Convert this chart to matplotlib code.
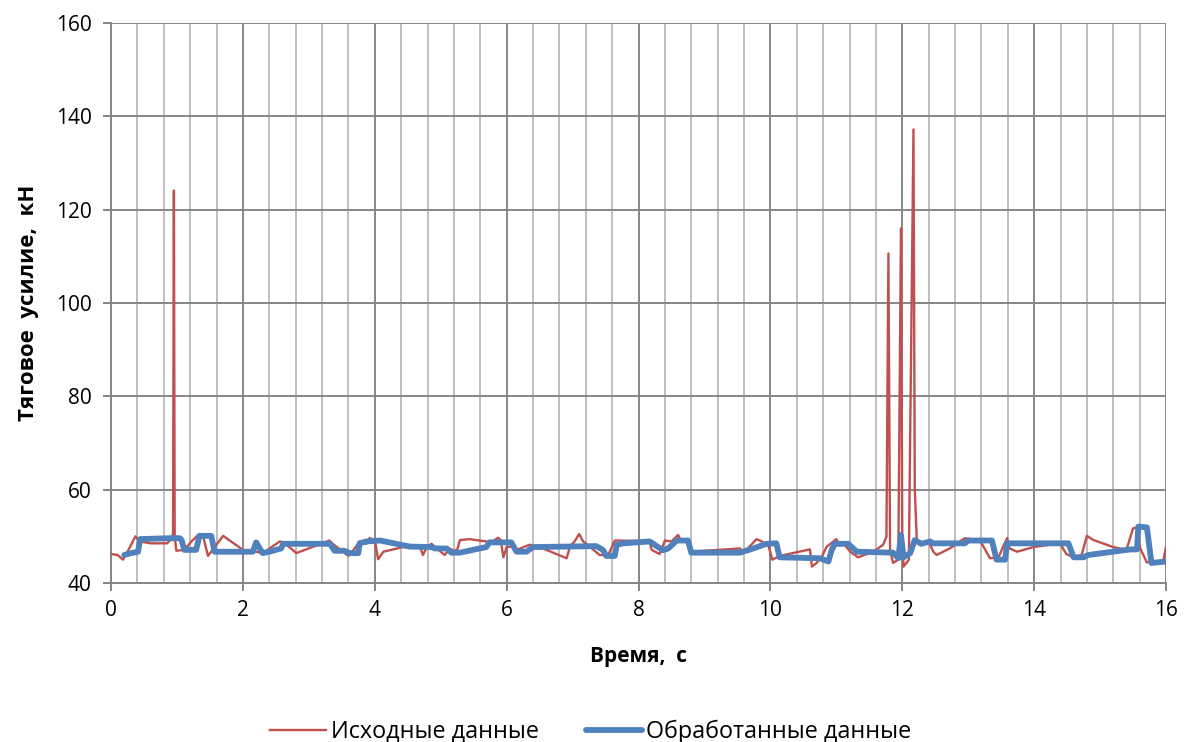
import matplotlib
matplotlib.use("Agg")
import matplotlib.pyplot as plt
from matplotlib.ticker import MultipleLocator

plt.rcParams['font.family'] = ['Open Sans', 'DejaVu Sans']

# Raw data (Исходные данные)
raw_t = [0.00, 0.10, 0.18, 0.25, 0.37, 0.43, 0.60, 0.85, 0.90, 0.94, 0.953, 0.965, 0.99,
         1.11, 1.22, 1.32, 1.40, 1.47, 1.70, 2.00, 2.20, 2.30, 2.56, 2.62, 2.81, 3.31, 3.36,
         3.60, 3.68, 3.77, 3.87, 3.92, 4.00, 4.05, 4.13, 4.43, 4.68, 4.73, 4.78, 4.86, 4.94,
         5.06, 5.14, 5.19, 5.25, 5.29, 5.44, 5.69, 5.77, 5.87, 5.91, 5.95, 6.00, 6.07, 6.15,
         6.35, 6.55, 6.91, 6.96, 7.03, 7.10, 7.16, 7.26, 7.41, 7.54, 7.64, 8.02, 8.17, 8.20,
         8.32, 8.40, 8.50, 8.60, 8.65, 8.73, 8.78, 9.54, 9.56, 9.61, 9.79, 9.87, 9.97, 10.03,
         10.14, 10.60, 10.63, 10.70, 10.78, 10.85, 11.00, 11.05, 11.10, 11.21, 11.33, 11.56,
         11.71, 11.76, 11.79, 11.815, 11.86, 11.94, 11.98, 12.00, 12.02, 12.10, 12.17, 12.19,
         12.22, 12.32, 12.40, 12.47, 12.52, 12.72, 12.95, 13.18, 13.33, 13.46, 13.53, 13.59,
         13.63, 13.74, 13.99, 14.39, 14.49, 14.60, 14.72, 14.80, 14.90, 15.20, 15.40, 15.50,
         15.56, 15.61, 15.71, 15.96, 16.00]
raw_v = [46.2, 46.0, 45.0, 46.7, 50.0, 48.9, 48.5, 48.5, 49.2, 50.5, 124.1, 50.0, 46.9,
         47.1, 48.9, 50.3, 49.8, 45.8, 50.1, 47.1, 46.7, 46.4, 48.9, 48.7, 46.4, 49.1, 48.4,
         45.8, 47.1, 48.9, 48.4, 49.6, 49.2, 45.1, 46.7, 47.7, 48.0, 46.0, 47.4, 48.4, 47.4,
         46.0, 47.4, 46.9, 47.1, 49.2, 49.4, 48.9, 48.7, 49.7, 49.2, 45.5, 47.7, 47.8, 47.1,
         48.2, 47.4, 45.3, 47.8, 48.9, 50.5, 48.9, 47.8, 46.0, 46.0, 49.1, 49.0, 48.7, 47.1,
         46.2, 49.1, 48.9, 50.3, 48.9, 48.9, 46.7, 47.4, 47.1, 46.7, 49.4, 48.9, 48.0, 45.0,
         45.8, 47.2, 43.5, 44.3, 45.6, 47.7, 49.4, 48.0, 48.7, 46.7, 45.5, 46.7,
         48.2, 49.9, 110.6, 47.0, 44.3, 45.0, 116.0, 50.0, 43.5, 45.0, 137.2, 60.0,
         49.2, 48.2, 48.9, 46.7, 46.0, 47.4, 49.6, 49.1, 45.3, 45.5, 47.8, 49.6,
         47.4, 46.7, 47.7, 48.5, 46.2, 45.5, 46.0, 50.1, 49.2, 47.7, 47.1, 51.7,
         51.9, 47.4, 44.4, 44.8, 47.7]

# Processed data (Обработанные данные)
proc_t = [0.20, 0.30, 0.41, 0.44, 0.89, 1.04, 1.07, 1.11, 1.29, 1.34, 1.52, 1.57, 2.15, 2.20,
          2.30, 2.40, 2.58, 2.61, 3.32, 3.39, 3.54, 3.62, 3.75, 3.77, 3.87, 4.08, 4.53, 4.86,
          4.91, 5.09, 5.16, 5.29, 5.69, 5.74, 6.07, 6.15, 6.30, 6.40, 7.36, 7.46, 7.51, 7.64,
          7.67, 7.77, 8.17, 8.37, 8.45, 8.58, 8.75, 8.80, 9.54, 9.74, 9.94, 10.09, 10.14, 10.75,
          10.88, 10.93, 10.98, 11.18, 11.31, 11.86, 11.94, 11.98, 12.02, 12.12, 12.19, 12.29,
          12.42, 12.47, 12.95, 13.00, 13.36, 13.43, 13.56, 13.59, 14.52, 14.60, 14.75, 14.82,
          15.46, 15.56, 15.58, 15.71, 15.78, 16.00]
proc_v = [46.0, 46.4, 46.7, 49.4, 49.6, 49.6, 49.2, 47.1, 47.1, 50.1, 50.1, 46.7, 46.7, 48.7,
          46.4, 46.7, 47.4, 48.4, 48.4, 46.9, 46.9, 46.4, 46.4, 48.5, 48.9, 49.1, 47.8, 47.7,
          47.4, 47.4, 46.5, 46.5, 47.7, 48.7, 48.7, 46.7, 46.7, 47.7, 47.9, 47.1, 45.8, 45.8,
          48.2, 48.5, 48.9, 47.0, 47.4, 49.1, 49.1, 46.5, 46.5, 47.4, 48.4, 48.5, 45.5, 45.3,
          44.6, 47.1, 48.4, 48.4, 46.7, 46.5, 45.3, 50.3, 45.5, 46.4, 49.2, 48.4,
          48.9, 48.5, 48.5, 49.1, 49.1, 45.0, 45.0, 48.5, 48.5, 45.5, 45.5, 46.0,
          47.2, 47.2, 52.1, 51.9, 44.3, 44.6]

x_ticks = [0, 2, 4, 6, 8, 10, 12, 14, 16]
y_ticks = [40, 60, 80, 100, 120, 140, 160]

fig = plt.figure(figsize=(11.84, 7.42), dpi=100)
ax = fig.add_axes([0.0938, 0.2143, 0.8910, 0.7547])

major_c = '#868686'
minor_c = '#BFBFBF'

ax.set_xlim(0, 16)
ax.set_ylim(40, 160)
ax.set_xticks(x_ticks)
ax.set_yticks(y_ticks)
ax.xaxis.set_minor_locator(MultipleLocator(0.4))
ax.grid(True, which='major', axis='both', color=major_c, linewidth=1.4, zorder=0)
ax.grid(True, which='minor', axis='x', color=minor_c, linewidth=1.4, zorder=0)
ax.set_axisbelow(True)

for s in ['top', 'right']:
    ax.spines[s].set_visible(False)
for s in ['left', 'bottom']:
    ax.spines[s].set_color(major_c)
    ax.spines[s].set_linewidth(1.4)

ax.tick_params(axis='both', which='major', length=6, width=1.4, color=major_c,
               labelsize=15, labelcolor='black', pad=6)
ax.tick_params(axis='x', which='minor', length=0)
ax.tick_params(axis='y', which='major', pad=8)

l1, = ax.plot(raw_t, raw_v, color='#C0504D', linewidth=1.7, zorder=3, label='Исходные данные')
l2, = ax.plot(proc_t, proc_v, color='#4F81BD', linewidth=4.2, zorder=4,
              solid_joinstyle='round', solid_capstyle='round', label='Обработанные данные')

ax.set_xlabel('Время,  с', fontsize=15, fontweight='bold', labelpad=18)
ax.set_ylabel('Тяговое  усилие,  кН', fontsize=16, fontweight='bold', labelpad=12)

fig.legend(handles=[l1, l2], loc='center', bbox_to_anchor=(0.499, 0.014), ncol=2,
           frameon=False, fontsize=16.8, handlelength=2.4, handletextpad=0.2,
           columnspacing=2.0)

fig.savefig('out.png', dpi=100)
